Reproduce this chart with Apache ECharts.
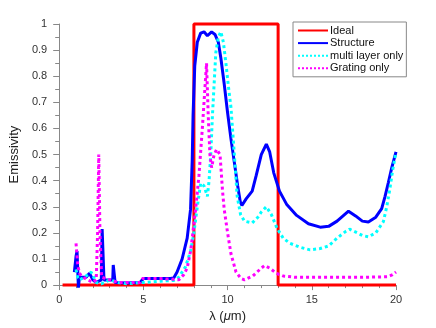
<!DOCTYPE html>
<html>
<head>
<meta charset="utf-8">
<script src="https://cdn.jsdelivr.net/npm/echarts@6/dist/echarts.min.js"></script>
<style>
  html, body { margin: 0; padding: 0; background: #fff; }
  #chart { width: 436px; height: 328px; }
</style>
</head>
<body>
<div id="chart"></div>
<script>
// values, [lambda (um), emissivity]
var ideal = [[0.2, 0], [8, 0], [8, 1], [13, 1], [13, 0], [20, 0]];

var structure = [
  [0.9, 0.05], [1.0, 0.11], [1.06, 0.13], [1.1, 0.06], [1.14, -0.01], [1.2, 0.03], [1.3, 0.027],
  [1.6, 0.03], [1.8, 0.045], [2.0, 0.02], [2.2, 0.01], [2.5, 0.02], [2.55, 0.215], [2.63, 0.215],
  [2.66, 0.02], [3.0, 0.02], [3.18, 0.02], [3.21, 0.077], [3.29, 0.077], [3.32, 0.01],
  [4.0, 0.008], [4.8, 0.01], [5.0, 0.025], [6.0, 0.025], [6.6, 0.025], [6.8, 0.027],
  [7.0, 0.05], [7.3, 0.1], [7.6, 0.18], [7.8, 0.29], [7.9, 0.48], [7.95, 0.65], [8.05, 0.84],
  [8.2, 0.93], [8.4, 0.965], [8.6, 0.97], [8.8, 0.955], [9.05, 0.97], [9.25, 0.96],
  [9.45, 0.93], [9.6, 0.87], [9.8, 0.77], [10.0, 0.66], [10.2, 0.56], [10.4, 0.47],
  [10.6, 0.38], [10.75, 0.32], [10.85, 0.305], [11.1, 0.33], [11.46, 0.36], [11.7, 0.42],
  [12.0, 0.5], [12.3, 0.54], [12.5, 0.51], [12.74, 0.43], [13.08, 0.36], [13.5, 0.31],
  [14.1, 0.267], [14.8, 0.235], [15.5, 0.222], [16.0, 0.225], [16.5, 0.245], [17.18, 0.283],
  [17.6, 0.265], [18.0, 0.245], [18.36, 0.242], [18.8, 0.26], [19.15, 0.293], [19.35, 0.34],
  [19.55, 0.394], [19.75, 0.45], [20.0, 0.51]
];

var multiLayer = [
  [1.0, 0.06], [1.1, 0.03], [1.2, 0.02], [1.5, 0.03], [1.9, 0.05], [2.2, 0.01], [2.5, 0.005],
  [3.0, 0.02], [3.5, 0.01], [4.0, 0.005], [5.0, 0.01], [6.0, 0.015], [6.8, 0.018], [7.1, 0.03],
  [7.5, 0.07], [7.8, 0.13], [8.0, 0.2], [8.2, 0.3], [8.4, 0.39], [8.6, 0.38], [8.8, 0.34],
  [8.9, 0.4], [9.0, 0.5], [9.1, 0.65], [9.2, 0.77], [9.3, 0.89], [9.45, 0.95], [9.6, 0.97],
  [9.75, 0.93], [9.9, 0.85], [10.05, 0.76], [10.2, 0.68], [10.4, 0.5], [10.57, 0.34],
  [10.77, 0.27], [11.0, 0.245], [11.46, 0.238], [11.8, 0.26], [12.0, 0.28], [12.3, 0.3],
  [12.6, 0.27], [12.94, 0.217], [13.3, 0.18], [13.7, 0.16], [14.3, 0.145], [14.9, 0.135],
  [15.5, 0.14], [16.0, 0.15], [16.5, 0.18], [17.0, 0.205], [17.24, 0.214], [17.7, 0.2],
  [18.0, 0.19], [18.36, 0.185], [18.8, 0.2], [19.25, 0.243], [19.45, 0.3], [19.64, 0.37],
  [19.8, 0.44], [20.0, 0.51]
];

var grating = [
  [1.0, 0.16], [1.1, 0.08], [1.2, 0.045], [1.4, 0.03], [1.7, 0.02], [2.0, 0.01], [2.2, 0.02],
  [2.28, 0.2], [2.35, 0.5], [2.42, 0.2], [2.52, 0.03], [3.0, 0.02], [3.5, 0.01], [4.0, 0.01],
  [4.8, 0.01], [4.95, 0.025], [6.0, 0.025], [6.8, 0.022], [7.1, 0.02], [7.4, 0.04], [7.6, 0.065],
  [7.8, 0.13], [7.9, 0.18], [8.1, 0.29], [8.3, 0.42], [8.5, 0.6], [8.65, 0.75], [8.75, 0.85],
  [8.85, 0.65], [8.95, 0.5], [9.05, 0.45], [9.2, 0.5], [9.35, 0.52], [9.55, 0.5], [9.7, 0.36],
  [9.8, 0.29], [10.0, 0.2], [10.2, 0.12], [10.5, 0.05], [10.8, 0.025], [11.0, 0.02],
  [11.5, 0.035], [12.0, 0.065], [12.2, 0.075], [12.5, 0.065], [12.9, 0.045], [13.3, 0.035],
  [14.0, 0.03], [16.0, 0.03], [18.0, 0.03], [19.5, 0.032], [19.8, 0.04], [20.0, 0.05]
];

var seriesNames = ['Ideal', 'Structure', 'multi layer only', 'Grating only'];
var seriesColors = ['#ff0000', '#0000ff', '#00ffff', '#ff00ff'];
var seriesData = [ideal, structure, multiLayer, grating];
var seriesDash = ['solid', 'solid', 'dotted', 'dotted'];

var font = 'Liberation Sans, Arial, sans-serif';
var chart = echarts.init(document.getElementById('chart'));

var option = {
  animation: false,
  backgroundColor: '#fff',
  grid: { left: 58, right: 40, top: 24, bottom: 41 },
  legend: {
    orient: 'vertical',
    left: 293,
    top: 22,
    padding: [3, 3, 3, 4],
    itemWidth: 30,
    itemHeight: 12,
    itemGap: 1.6,
    borderColor: '#888',
    borderWidth: 1,
    backgroundColor: '#fff',
    itemStyle: { opacity: 0 },
    textStyle: { fontFamily: font, fontSize: 11, color: '#111', padding: [0, 0, 0, -3] },
    data: seriesNames
  },
  xAxis: {
    type: 'value',
    min: 0, max: 20, interval: 5,
    name: 'λ ({i|μ}m)',
    nameLocation: 'middle',
    nameGap: 17,
    nameTextStyle: { fontFamily: font, fontSize: 13, color: '#222', rich: { i: { fontStyle: 'italic', fontFamily: font, fontSize: 13, color: '#222' } } },
    axisLine: { lineStyle: { color: '#888', width: 1 } },
    axisTick: { inside: false, length: 5, lineStyle: { color: '#888' } },
    minorTick: { show: true, splitNumber: 5, length: 3, lineStyle: { color: '#888' } },
    axisLabel: { fontFamily: font, fontSize: 11, color: '#333', margin: 9 },
    splitLine: { show: false }
  },
  yAxis: {
    type: 'value',
    min: 0, max: 1, interval: 0.1,
    name: 'Emissivity',
    nameLocation: 'middle',
    nameGap: 31,
    nameTextStyle: { fontFamily: font, fontSize: 13, color: '#222' },
    axisLine: { show: true, lineStyle: { color: '#888', width: 1 } },
    axisTick: { show: true, inside: false, length: 6, lineStyle: { color: '#888' } },
    minorTick: { show: true, splitNumber: 2, length: 4, lineStyle: { color: '#888' } },
    axisLabel: { fontFamily: font, fontSize: 11, color: '#333', margin: 12 },
    splitLine: { show: false }
  },
  series: seriesNames.map(function (name, i) {
    return {
      name: name,
      type: 'line',
      data: seriesData[i],
      symbol: 'none',
      smooth: false,
      clip: false,
      z: i === 0 ? 2 : 3 + i,
      lineStyle: { color: seriesColors[i], width: 3, type: seriesDash[i] },
      itemStyle: { color: seriesColors[i] }
    };
  })
};

chart.setOption(option);
</script>
</body>
</html>
